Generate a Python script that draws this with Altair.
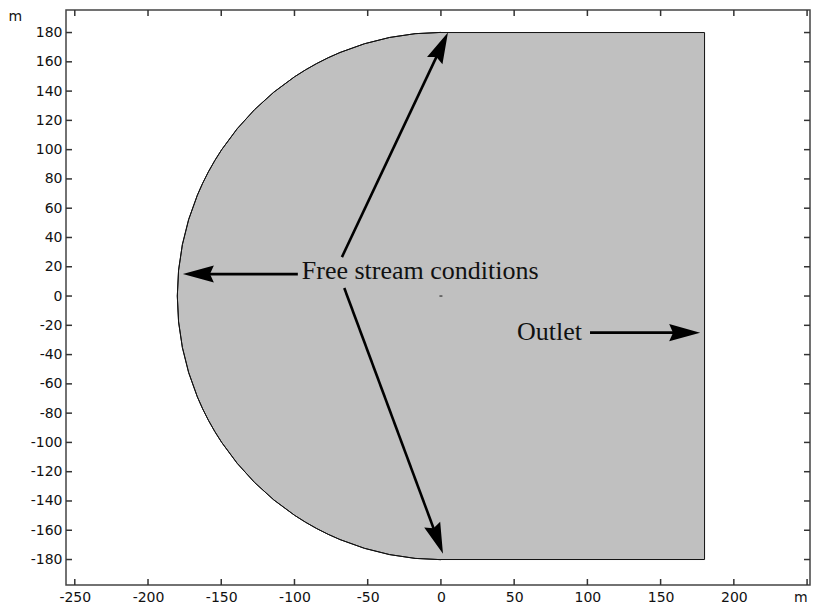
import altair as alt
import numpy as np
import pandas as pd

# ---- data ----
x_ticks = [-250, -200, -150, -100, -50, 0, 50, 100, 150, 200, 250]
y_ticks = [-180, -160, -140, -120, -100, -80, -60, -40, -20, 0, 20, 40, 60, 80, 100, 120, 140, 160, 180]
x_domain = [-256, 252]
y_domain = [-197.4, 195.4]

radius = 180
rect_x = [0, 180]
rect_y = [-180, 180]
outline_x = [0, 180, 180, 0]
outline_y = [180, 180, -180, -180]

arrow_x0 = [-67.6, -97.7, -66.0, 101.8]
arrow_y0 = [26.6, 15.0, 5.5, -25.0]
arrow_x1 = [4.8, -176.2, 1.4, 177.0]
arrow_y1 = [180.0, 15.0, -176.0, -25.0]

labels = ["Free stream conditions", "Outlet"]
label_x = [-95.0, 51.9]
label_y = [17.0, -24.6]

W, H = 744, 575
FILL = "#c0c0c0"

xs = alt.Scale(domain=x_domain, nice=False, zero=False)
ys = alt.Scale(domain=y_domain, nice=False, zero=False)
rs = alt.Scale(type="linear", domain=[0, 254], range=[0, W / 2], zero=True)

x_axis = alt.Axis(
    values=x_ticks, ticks=False, domain=False, grid=False, title=None,
    labelExpr="datum.value == 250 ? 'm' : replace(datum.label, '\u2212', '-')",
    labelFont="DejaVu Sans", labelFontSize=14, labelColor="#111", labelPadding=5,
    labelFlush=4, labelOverlap=False)
y_axis = alt.Axis(
    values=y_ticks + [195.4], ticks=False, domain=False, grid=False, title="m",
    titleAngle=0, titleX=-58, titleY=-1, titleAlign="left", titleBaseline="top",
    titleFont="DejaVu Sans", titleFontSize=14, titleFontWeight="normal", titleColor="#111",
    labelExpr="datum.value > 190 ? '' : replace(datum.label, '\u2212', '-')",
    labelFont="DejaVu Sans", labelFontSize=14, labelColor="#111", labelPadding=4,
    labelFlush=False, labelOverlap=False)

X = lambda f: alt.X(f, type="quantitative", scale=xs, axis=x_axis)
Y = lambda f: alt.Y(f, type="quantitative", scale=ys, axis=y_axis)

center = pd.DataFrame({"x": [0.0], "y": [0.0], "r": [radius], "r2": [radius]})

circle_fill = alt.Chart(center).mark_arc(theta=0, theta2=2 * np.pi, fill=FILL, stroke=None).encode(
    x=X("x"), y=Y("y"), radius=alt.Radius("r:Q", scale=rs)
)
circle_line = alt.Chart(center).mark_arc(
    theta=np.pi, theta2=2 * np.pi, filled=False, stroke="#111", strokeWidth=1, fillOpacity=0
).encode(
    x=X("x"), y=Y("y"), radius=alt.Radius("r:Q", scale=rs), radius2="r2:Q"
)

rect_df = pd.DataFrame({"x": [rect_x[0]], "x2": [rect_x[1]], "y": [rect_y[0]], "y2": [rect_y[1]]})
rect = alt.Chart(rect_df).mark_rect(fill=FILL, stroke=None).encode(
    x=X("x"), x2="x2", y=Y("y"), y2="y2"
)

outline_df = pd.DataFrame({"x": outline_x, "y": outline_y, "o": range(len(outline_x))})
outline = alt.Chart(outline_df).mark_line(color="#111", strokeWidth=1).encode(
    x=X("x"), y=Y("y"), order="o:Q"
)

origin = alt.Chart(center).mark_point(shape="M-1,-0.4 L1,-0.4 L1,0.4 L-1,0.4 Z", filled=True,
                                      size=9, color="#333", opacity=1).encode(
    x=X("x"), y=Y("y")
)

# arrows
ax0, ay0, ax1, ay1 = map(np.array, (arrow_x0, arrow_y0, arrow_x1, arrow_y1))
dx, dy = ax1 - ax0, ay1 - ay0
L = np.hypot(dx, dy)
back = 12.0
arr = pd.DataFrame({
    "x0": ax0, "y0": ay0,
    "xe": ax1 - dx / L * back, "ye": ay1 - dy / L * back,
    "x1": ax1, "y1": ay1,
    "ang": np.degrees(np.arctan2(dx, dy)) % 360,
})
shafts = alt.Chart(arr).mark_rule(color="black", strokeWidth=2.6).encode(
    x=X("x0"), y=Y("y0"), x2="xe", y2="ye"
)
heads = alt.Chart(arr).mark_point(
    shape="M0,0 L0.55,2 L0,1.75 L-0.55,2 Z", filled=True, size=960, color="black", opacity=1, strokeWidth=0
).encode(
    x=X("x1"), y=Y("y1"), angle=alt.Angle("ang:Q", scale=None)
)

txt_df = pd.DataFrame({"t": labels, "x": label_x, "y": label_y})
texts = alt.Chart(txt_df).mark_text(
    font="Liberation Serif", fontSize=26, align="left", baseline="middle", color="#111"
).encode(x=X("x"), y=Y("y"), text="t:N")

# inside ticks
xt = pd.DataFrame({"v": x_ticks})
yt = pd.DataFrame({"v": y_ticks})
tick_bottom = alt.Chart(xt).mark_rule(color="#333", strokeWidth=1.5).encode(
    x=X("v:Q"), y=alt.value(H), y2=alt.value(H - 6)
)
tick_top = alt.Chart(xt).mark_rule(color="#333", strokeWidth=1.5).encode(
    x=X("v:Q"), y=alt.value(0), y2=alt.value(6)
)
tick_left = alt.Chart(yt).mark_rule(color="#333", strokeWidth=1.5).encode(
    y=Y("v:Q"), x=alt.value(0), x2=alt.value(6)
)
tick_right = alt.Chart(yt).mark_rule(color="#333", strokeWidth=1.5).encode(
    y=Y("v:Q"), x=alt.value(W), x2=alt.value(W - 6)
)

chart = alt.layer(
    circle_fill, rect, circle_line, outline, origin, shafts, heads, texts,
    tick_bottom, tick_top, tick_left, tick_right
).properties(
    width=W, height=H,
    autosize=alt.AutoSizeParams(type="none"),
    padding={"left": 58, "top": 2, "right": 2, "bottom": 22},
).configure_view(stroke="#444", strokeWidth=1.5)

chart.save("out.html", embed_options={"renderer": "svg", "actions": False})
